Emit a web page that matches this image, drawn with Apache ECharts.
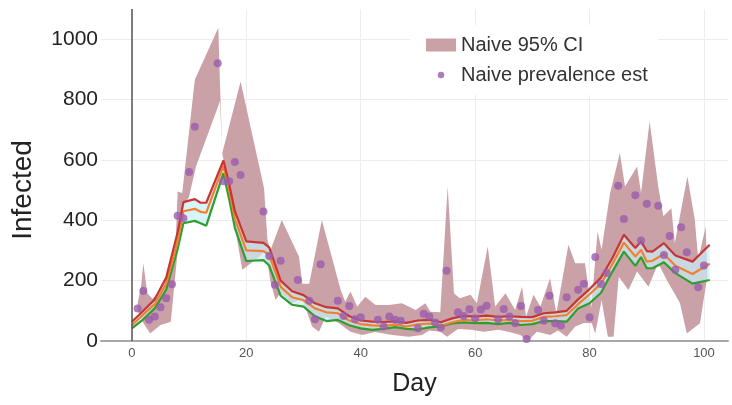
<!DOCTYPE html>
<html>
<head>
<meta charset="utf-8">
<script src="https://cdn.jsdelivr.net/npm/echarts@6/dist/echarts.min.js"></script>
<style>
  html, body { margin: 0; padding: 0; background: #fff; }
  #chart { width: 732px; height: 405px; }
</style>
</head>
<body>
<div id="chart"></div>
<script>
(function () {
  'use strict';

  // tick labels
  const xTicks = [0, 20, 40, 60, 80, 100];
  const yTicks = [0, 200, 400, 600, 800, 1000];

  // naive prevalence estimates [day, infected]
  const prevalence = [
    [1, 108], [2, 166], [3, 70], [4, 81], [5, 112], [6, 142], [7, 188], [8, 415], [9, 407],
    [10, 560], [11, 710], [15, 920], [16, 529], [17, 529], [18, 593], [19, 550], [23, 429],
    [24, 282], [25, 186], [26, 266], [29, 202], [31, 133], [32, 72], [33, 254], [36, 133],
    [37, 83], [38, 116], [39, 72], [40, 79], [43, 70], [44, 48], [45, 81], [46, 70], [47, 67],
    [50, 42], [51, 90], [52, 81], [53, 61], [54, 45], [55, 233], [57, 95], [58, 83], [59, 105],
    [60, 75], [61, 104], [62, 117], [64, 72], [65, 106], [66, 81], [67, 59], [68, 116], [69, 7],
    [71, 103], [72, 67], [73, 150], [74, 59], [75, 51], [76, 145], [78, 170], [79, 190],
    [80, 79], [81, 278], [82, 189], [83, 225], [85, 514], [86, 404], [88, 483], [89, 333],
    [90, 455], [92, 448], [93, 285], [94, 348], [95, 236], [96, 377], [97, 294], [99, 178], [100, 250]
  ];

  // naive 95% CI, upper and lower edges [day, infected]
  const ciUpper = [
    [1, 125], [1.6, 180], [2, 258], [2.7, 158], [3.6, 140], [5, 170], [6.5, 215], [7.5, 260],
    [8, 495], [8.8, 490], [11, 866], [15.1, 1038], [15.5, 794], [15.8, 623], [19, 860],
    [23.1, 506], [23.7, 335], [24.2, 300], [26.2, 401], [29.2, 280], [29.8, 190], [31, 190],
    [33.2, 401], [36.5, 169], [37.3, 130], [38.2, 164], [39.4, 114], [40.8, 147], [42.6, 119],
    [44.9, 119], [47.2, 125], [49.6, 103], [51.3, 125], [52.2, 97], [53.9, 95], [55.2, 512],
    [56.3, 158], [57.3, 142], [59.2, 153], [60.3, 125], [62.2, 313], [63.5, 114], [65.3, 158],
    [67, 103], [68.2, 180], [68.9, 81], [70.2, 153], [71.4, 114], [73.1, 208], [74.2, 92],
    [76.3, 319], [77.5, 258], [79.2, 258], [80.3, 110], [81.4, 363], [82.1, 302], [83.6, 490],
    [85.3, 623], [86.2, 512], [88.3, 578], [89, 490], [90.5, 728], [92, 512], [92.9, 413],
    [94.3, 440], [94.9, 324], [97.1, 545], [98.4, 402], [99, 269], [100.3, 379], [100.6, 213]
  ];
  const ciLower = [
    [1, 103], [2, 60], [3.2, 25], [5, 53], [6.8, 64], [7.5, 200], [8.3, 357], [9.1, 446],
    [10, 479], [11.2, 578], [15.4, 794], [15.8, 623], [19.3, 236], [22, 275], [23.4, 300],
    [24.2, 200], [25.1, 136], [26, 160], [28, 125], [29.8, 140], [31.5, 48], [32.7, 31],
    [33.9, 81], [36.2, 59], [38.2, 31], [40.3, 20], [42.5, 30], [45.5, 20], [48.4, 14],
    [50.7, 20], [52, 35], [53.9, 31], [55.1, 14], [57, 40], [59.2, 37], [61.5, 31], [64.1, 37],
    [66, 30], [67.9, 20], [69.2, 0], [70.8, 31], [73.1, 20], [74.5, 35], [76, 14], [77.5, 48],
    [79, 60], [80.4, 59], [81, 25], [82.1, 136], [83.2, 14], [84.2, 14], [85.1, 213],
    [86.8, 169], [88.3, 230], [90.3, 180], [92, 258], [93.5, 202], [95.8, 126], [97, 25],
    [99.3, 59], [100.3, 180]
  ];

  // model curves, sampled at lineDays
  const lineDays = [0, 2, 4, 6, 8, 9, 11, 12, 13, 16, 17, 18, 20, 23, 24, 26, 28, 30, 32, 34, 36,
    38, 40, 42, 44, 46, 48, 50, 52, 54, 56, 58, 60, 62, 64, 66, 68, 70, 72, 74, 76, 78, 80, 82,
    84, 86, 88, 89, 90, 91, 93, 95, 98, 101];
  const redVals = [64, 100, 138, 210, 360, 460, 470, 458, 458, 598, 520, 430, 330, 325, 310, 200,
    165, 152, 125, 112, 108, 82, 68, 64, 63, 65, 60, 68, 70, 62, 75, 83, 81, 84, 80, 82, 80, 79,
    92, 95, 100, 138, 172, 210, 275, 352, 308, 330, 298, 296, 324, 283, 263, 319];
  const orangeVals = [52, 88, 122, 190, 330, 430, 438, 428, 425, 580, 500, 405, 300, 298, 285, 180,
    145, 135, 108, 95, 92, 68, 56, 52, 50, 54, 48, 55, 58, 50, 62, 70, 68, 72, 68, 70, 66, 67,
    80, 82, 86, 122, 155, 190, 255, 326, 280, 302, 263, 266, 288, 249, 222, 256];
  const greenVals = [42, 72, 108, 170, 305, 390, 398, 390, 382, 556, 470, 375, 265, 268, 250, 150,
    120, 114, 82, 66, 70, 52, 42, 37, 40, 46, 40, 38, 45, 48, 58, 62, 59, 60, 56, 60, 53, 56,
    66, 66, 64, 108, 125, 160, 230, 296, 249, 278, 241, 241, 261, 225, 190, 202];

  const bandColor = '#caa1a7';
  const pointColor = '#9a5cad';
  const font = 'Liberation Sans, Arial, sans-serif';

  function pairs(vals) {
    return lineDays.map(function (d, i) { return [d, vals[i]]; });
  }

  function polygonItem(top, bottom, fill) {
    return function (params, api) {
      const pts = top.map(function (p) { return api.coord(p); })
        .concat(bottom.slice().reverse().map(function (p) { return api.coord(p); }));
      return { type: 'polygon', shape: { points: pts }, style: { fill: fill } };
    };
  }

  const red = pairs(redVals);
  const orange = pairs(orangeVals);
  const green = pairs(greenVals);

  const el = document.getElementById('chart');
  const chart = echarts.init(el, null, { renderer: 'canvas' });

  function curve(name, data, color) {
    return {
      name: name, type: 'line', data: data, showSymbol: false, silent: true,
      lineStyle: { color: color, width: 2.2 }, itemStyle: { color: color }, z: 4
    };
  }

  chart.setOption({
    animation: false,
    backgroundColor: '#fff',
    grid: { left: 101, right: 4, top: 9, bottom: 64 },
    legend: {
      left: 410, top: 25,
      orient: 'vertical',
      backgroundColor: '#fff',
      padding: [10, 10, 10, 16],
      itemWidth: 30, itemHeight: 13, itemGap: 10,
      textStyle: { fontFamily: font, fontSize: 20, color: '#333' },
      data: [
        { name: 'Naive 95% CI', icon: 'rect' },
        { name: 'Naive prevalence est', icon: 'path://M0 0M30 14M11.5 7A3.5 3.5 0 1 1 18.5 7A3.5 3.5 0 1 1 11.5 7Z' }
      ]
    },
    xAxis: {
      type: 'value', min: -5.4, max: 104.2,
      name: 'Day', nameLocation: 'middle', nameGap: 31,
      nameTextStyle: { fontFamily: font, fontSize: 25, color: '#222' },
      axisLine: { show: true, lineStyle: { color: '#a8a8a8', width: 2 } },
      axisTick: { show: false, customValues: xTicks },
      axisLabel: { customValues: xTicks, fontFamily: font, fontSize: 13, color: '#555', margin: 6 },
      splitLine: { show: true, lineStyle: { color: '#ececec', width: 1 } }
    },
    yAxis: {
      type: 'value', min: 0, max: 1100,
      name: 'Infected', nameLocation: 'middle', nameGap: 64, nameRotate: 90,
      nameTextStyle: { fontFamily: font, fontSize: 28, color: '#222', padding: [0, 30, 0, 0] },
      axisLine: { show: false },
      axisTick: { show: false, customValues: yTicks },
      axisLabel: {
        customValues: yTicks, fontFamily: font, fontSize: 21, color: '#222', margin: 3,
        formatter: function (v) { return String(v); }
      },
      splitLine: { show: true, lineStyle: { color: '#ececec', width: 1 } }
    },
    series: [
      {
        name: 'Naive 95% CI', type: 'custom', coordinateSystem: 'cartesian2d',
        data: [[0, 0]], silent: true, z: 2,
        itemStyle: { color: bandColor },
        renderItem: polygonItem(ciUpper, ciLower, bandColor),
        markLine: {
          silent: true, symbol: 'none', animation: false,
          label: { show: false },
          lineStyle: { color: '#555', width: 1.5, type: 'solid' },
          data: [{ xAxis: 0 }]
        }
      },
      {
        name: 'band', type: 'custom', coordinateSystem: 'cartesian2d',
        data: [[0, 0]], silent: true, z: 3,
        renderItem: polygonItem(red, green, 'rgba(200,238,248,0.7)')
      },
      curve('green', green, '#2f9e2f'),
      curve('orange', orange, '#f0812f'),
      curve('red', red, '#c73535'),
      {
        name: 'Naive prevalence est', type: 'scatter', data: prevalence,
        symbolSize: 8, itemStyle: { color: pointColor }, z: 5
      }
    ]
  });

  window.addEventListener('resize', function () { chart.resize(); });
})();
</script>
</body>
</html>
